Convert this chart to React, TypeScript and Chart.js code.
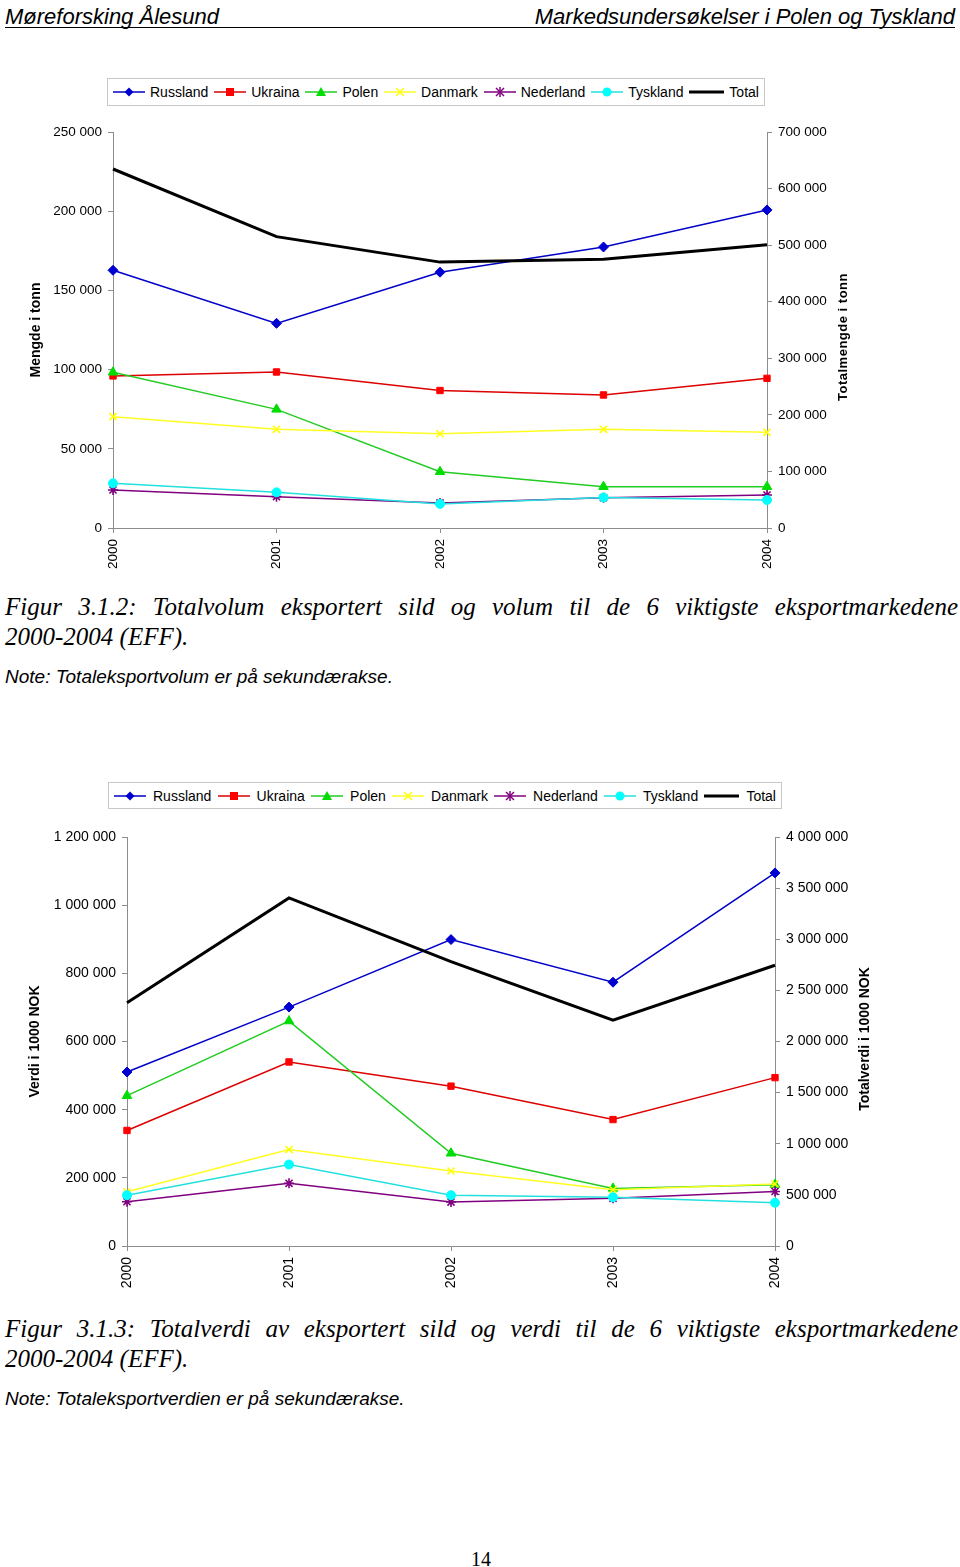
import React, { useEffect, useRef } from "react";
import { Chart, registerables } from "chart.js";

Chart.register(...registerables);

// ---------- DATA ----------
const years = ["2000", "2001", "2002", "2003", "2004"];
const seriesNames = ["Russland", "Ukraina", "Polen", "Danmark", "Nederland", "Tyskland", "Total"];

// Figur 3.1.2 – volum (tonn)
const volRussland = [162700, 129200, 161500, 177400, 200800];
const volUkraina = [96000, 98500, 86800, 84000, 94500];
const volPolen = [98300, 74900, 35500, 26100, 26100];
const volDanmark = [70300, 62300, 59500, 62300, 60400];
const volNederland = [24000, 19800, 15800, 19100, 20800];
const volTyskland = [28200, 22500, 15200, 19300, 17700];
const volTotal = [634600, 515000, 470000, 475000, 500800];

// Figur 3.1.3 – verdi (1000 NOK)
const valRussland = [510500, 701000, 899000, 774000, 1094600];
const valUkraina = [339000, 540000, 469000, 371000, 494000];
const valPolen = [441000, 660000, 272000, 169000, 180000];
const valDanmark = [159000, 283000, 220000, 165000, 182000];
const valNederland = [130000, 184000, 129000, 140000, 160000];
const valTyskland = [149000, 239000, 149000, 143000, 127000];
const valTotal = [2379000, 3404000, 2782000, 2209000, 2746000];

// Axis ranges
const volLeftAxis = [0, 250000, 50000];
const volRightAxis = [0, 700000, 100000];
const valLeftAxis = [0, 1200000, 200000];
const valRightAxis = [0, 4000000, 500000];

// ---------- STYLES ----------
type SeriesStyle = { line: string; marker: string; point: string; radius: number; width: number };
const seriesStyles: SeriesStyle[] = [
  { line: "#0000c8", marker: "#0000d0", point: "rectRot", radius: 5, width: 1.5 },
  { line: "#dd0000", marker: "#ff0000", point: "rect", radius: 4.5, width: 1.5 },
  { line: "#22cc22", marker: "#00dd00", point: "triangle", radius: 5.5, width: 1.5 },
  { line: "#ffff22", marker: "#ffff00", point: "crossRot", radius: 5, width: 1.5 },
  { line: "#800080", marker: "#800080", point: "star", radius: 5, width: 1.5 },
  { line: "#22e0e0", marker: "#00ffff", point: "circle", radius: 4.5, width: 1.5 },
  { line: "#000000", marker: "#000000", point: "line", radius: 0, width: 3 },
];

const SANS = "'Liberation Sans', Arial, sans-serif";
const SERIF = "'Liberation Serif', 'Times New Roman', serif";

const fmt = (v: number) => String(v).replace(/\B(?=(\d{3})+(?!\d))/g, " ");

type ChartProps = {
  top: number;
  height: number;
  padTop: number;
  leftWidth: number;
  rightWidth: number;
  xHeight: number;
  fontSize: number;
  leftTitle: string;
  leftTitlePad: number;
  series: number[][];
  leftAxis: number[];
  rightAxis: number[];
};

function LineChart(p: ChartProps) {
  const ref = useRef<HTMLCanvasElement | null>(null);
  useEffect(() => {
    if (!ref.current) return;
    const datasets = p.series.map((d, i) => {
      const st = seriesStyles[i];
      const isTotal = i === p.series.length - 1;
      return {
        label: seriesNames[i],
        data: d,
        yAxisID: isTotal ? "y1" : "y",
        borderColor: st.line,
        borderWidth: st.width,
        backgroundColor: st.marker,
        pointBackgroundColor: st.marker,
        pointBorderColor: st.marker,
        pointBorderWidth: st.point === "crossRot" || st.point === "star" ? 1.6 : 1,
        pointStyle: st.point,
        pointRadius: st.radius,
        tension: 0,
        fill: false,
        order: 10 - i,
      };
    });
    const tickFont = { family: SANS, size: p.fontSize };
    const grid = { display: true, drawOnChartArea: false, drawTicks: true, tickLength: 5, color: "#8c8c8c" };
    const border = { display: true, color: "#8c8c8c", width: 1 };
    const chart = new Chart(ref.current, {
      type: "line",
      data: { labels: years, datasets },
      options: {
        responsive: false,
        animation: false,
        layout: { padding: { top: p.padTop, left: 0, right: 0, bottom: 0 } },
        plugins: { legend: { display: false }, tooltip: { enabled: false } },
        scales: {
          x: {
            type: "category",
            offset: false,
            grid,
            border,
            ticks: { autoSkip: false, minRotation: 90, maxRotation: 90, padding: 6, color: "#000", font: tickFont },
            afterFit: (s: any) => {
              s.height = p.xHeight;
            },
          },
          y: {
            position: "left",
            min: p.leftAxis[0],
            max: p.leftAxis[1],
            grid,
            border,
            ticks: { stepSize: p.leftAxis[2], padding: 6, color: "#000", font: tickFont, callback: (v: any) => fmt(v) },
            title: {
              display: true,
              text: p.leftTitle,
              color: "#000",
              font: { family: SANS, size: 14, weight: "bold" },
              padding: { top: p.leftTitlePad, bottom: 0 },
            },
            afterFit: (s: any) => {
              s.width = p.leftWidth;
            },
          },
          y1: {
            position: "right",
            min: p.rightAxis[0],
            max: p.rightAxis[1],
            grid,
            border,
            ticks: { stepSize: p.rightAxis[2], padding: 6, color: "#000", font: tickFont, callback: (v: any) => fmt(v) },
            afterFit: (s: any) => {
              s.width = p.rightWidth;
            },
          },
        },
      } as any,
    });
    return () => chart.destroy();
  }, []);
  return (
    <canvas
      ref={ref}
      width={960}
      height={p.height}
      style={{ position: "absolute", left: 0, top: p.top, width: 960, height: p.height }}
    />
  );
}

function Marker({ style, color }: { style: string; color: string }) {
  const c = 8;
  switch (style) {
    case "rectRot":
      return <polygon points={`${16},${c - 4.5} ${20.5},${c} ${16},${c + 4.5} ${11.5},${c}`} fill={color} />;
    case "rect":
      return <rect x={12} y={c - 4} width={8} height={8} fill={color} />;
    case "triangle":
      return <polygon points={`16,${c - 5} 21,${c + 4} 11,${c + 4}`} fill={color} />;
    case "crossRot":
      return (
        <g stroke={color} strokeWidth={1.5}>
          <line x1={12} y1={c - 4} x2={20} y2={c + 4} />
          <line x1={20} y1={c - 4} x2={12} y2={c + 4} />
        </g>
      );
    case "star":
      return (
        <g stroke={color} strokeWidth={1.5}>
          <line x1={12} y1={c - 4} x2={20} y2={c + 4} />
          <line x1={20} y1={c - 4} x2={12} y2={c + 4} />
          <line x1={16} y1={c - 5} x2={16} y2={c + 5} />
        </g>
      );
    case "circle":
      return <circle cx={16} cy={c} r={4.5} fill={color} />;
    default:
      return null;
  }
}

function Legend({ left, top, width, height, textGap }: { left: number; top: number; width: number; height: number; textGap: number }) {
  return (
    <div
      style={{
        position: "absolute",
        left,
        top,
        width,
        height,
        boxSizing: "border-box",
        border: "1px solid #c8c8c8",
        display: "flex",
        alignItems: "center",
        justifyContent: "space-between",
        padding: "0 5px",
        fontFamily: SANS,
        fontSize: 14,
        color: "#000",
      }}
    >
      {seriesNames.map((n, i) => {
        const st = seriesStyles[i];
        const isTotal = i === seriesNames.length - 1;
        const w = isTotal ? 35 : 32;
        return (
          <div key={n} style={{ display: "flex", alignItems: "center" }}>
            <svg width={w} height={16} style={{ display: "block" }}>
              <line x1={0} y1={8} x2={w} y2={8} stroke={st.line} strokeWidth={isTotal ? 3 : 1.5} />
              <Marker style={st.point} color={st.marker} />
            </svg>
            <span style={{ marginLeft: textGap, whiteSpace: "nowrap" }}>{n}</span>
          </div>
        );
      })}
    </div>
  );
}

function RightTitle({ text, cx, cy, size, spacing }: { text: string; cx: number; cy: number; size: number; spacing: number }) {
  return (
    <div
      style={{
        position: "absolute",
        left: cx - 150,
        top: cy - 10,
        width: 300,
        height: 20,
        lineHeight: "20px",
        textAlign: "center",
        transform: "rotate(-90deg)",
        fontFamily: SANS,
        fontWeight: "bold",
        fontSize: size,
        letterSpacing: spacing,
        color: "#000",
        whiteSpace: "nowrap",
      }}
    >
      {text}
    </div>
  );
}

function Caption({ top, line1, line2, note }: { top: number; line1: string; line2: string; note: string }) {
  const cap: React.CSSProperties = {
    position: "absolute",
    left: 5,
    width: 953,
    fontFamily: SERIF,
    fontStyle: "italic",
    fontSize: 25,
    lineHeight: "30px",
    color: "#000",
    whiteSpace: "nowrap",
  };
  return (
    <>
      <div style={{ ...cap, top, textAlign: "justify", textAlignLast: "justify" as any }}>{line1}</div>
      <div style={{ ...cap, top: top + 30 }}>{line2}</div>
      <div
        style={{
          position: "absolute",
          left: 5,
          top: top + 74,
          fontFamily: SANS,
          fontStyle: "italic",
          fontSize: 19,
          lineHeight: "22px",
          color: "#000",
          whiteSpace: "nowrap",
        }}
      >
        {note}
      </div>
    </>
  );
}

export default function App() {
  return (
    <div style={{ position: "absolute", left: 0, top: 0, width: 960, height: 1567, background: "#fff", overflow: "hidden" }}>
      {/* header */}
      <div
        style={{
          position: "absolute",
          left: 5,
          top: 3,
          width: 950,
          height: 24,
          borderBottom: "1.5px solid #000",
          fontFamily: SANS,
          fontStyle: "italic",
          fontSize: 22,
          lineHeight: "28px",
          display: "flex",
          justifyContent: "space-between",
          color: "#000",
        }}
      >
        <span>Møreforsking Ålesund</span>
        <span>Markedsundersøkelser i Polen og Tyskland</span>
      </div>

      {/* chart 1 */}
      <Legend left={107} top={78} width={658} height={28} textGap={5} />
      <LineChart
        top={115}
        height={470}
        padTop={17}
        leftWidth={113}
        rightWidth={193}
        xHeight={57}
        fontSize={13.5}
        leftTitle="Mengde i tonn"
        leftTitlePad={28}
        series={[volRussland, volUkraina, volPolen, volDanmark, volNederland, volTyskland, volTotal]}
        leftAxis={volLeftAxis}
        rightAxis={volRightAxis}
      />
      <RightTitle text="Totalmengde i tonn" cx={843} cy={337} size={13} spacing={0.5} />
      <Caption
        top={592}
        line1="Figur 3.1.2: Totalvolum eksportert sild og volum til de 6 viktigste eksportmarkedene"
        line2="2000-2004 (EFF)."
        note="Note: Totaleksportvolum er på sekundærakse."
      />

      {/* chart 2 */}
      <Legend left={108} top={782} width={674} height={27} textGap={7} />
      <LineChart
        top={820}
        height={480}
        padTop={17}
        leftWidth={127}
        rightWidth={185}
        xHeight={54}
        fontSize={14}
        leftTitle="Verdi i 1000 NOK"
        leftTitlePad={27}
        series={[valRussland, valUkraina, valPolen, valDanmark, valNederland, valTyskland, valTotal]}
        leftAxis={valLeftAxis}
        rightAxis={valRightAxis}
      />
      <RightTitle text="Totalverdi i 1000 NOK" cx={864} cy={1039} size={14} spacing={0} />
      <Caption
        top={1314}
        line1="Figur 3.1.3: Totalverdi av eksportert sild og verdi til de 6 viktigste eksportmarkedene"
        line2="2000-2004 (EFF)."
        note="Note: Totaleksportverdien er på sekundærakse."
      />

      {/* page number */}
      <div
        style={{
          position: "absolute",
          left: 0,
          width: 962,
          top: 1547,
          textAlign: "center",
          fontFamily: SERIF,
          fontSize: 20,
          lineHeight: "24px",
          color: "#000",
        }}
      >
        14
      </div>
    </div>
  );
}
